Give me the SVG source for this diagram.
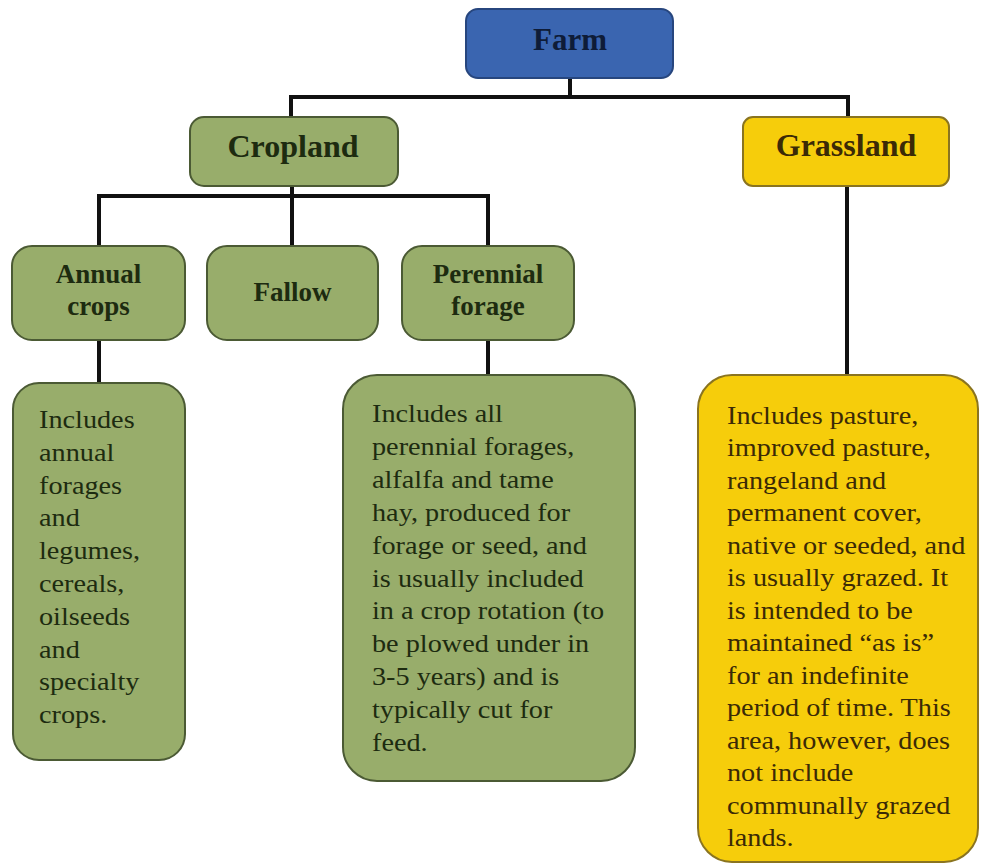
<svg xmlns="http://www.w3.org/2000/svg" width="981" height="866" viewBox="0 0 981 866">
<style>
.conn{stroke:#111;stroke-width:4;fill:none}
.blue{fill:#3a65b0;stroke:#27467e;stroke-width:2}
.green{fill:#98ad6b;stroke:#4b5a34;stroke-width:2}
.yellow{fill:#f6cd0b;stroke:#8a7420;stroke-width:2}
.lbl{font-family:"Liberation Serif","Times New Roman",serif;font-weight:bold;text-anchor:middle}
.desc{font-family:"Liberation Serif","Times New Roman",serif;font-size:25px}
.g{fill:#1d2b10}
.y{fill:#3b2a06}
</style>
<rect width="981" height="866" fill="#ffffff"/>
<g id="connectors">
<path class="conn" d="M570,78 V97 M291,97 H848 M291,95 V117 M848,95 V117"/>
<path class="conn" d="M292,186 V196 M98,196 H489 M99,194 V246 M292,194 V246 M488,194 V246"/>
<path class="conn" d="M99,340 V383 M488,340 V375 M847,186 V375"/>
</g>
<g id="farm">
<rect class="blue" x="466" y="9" width="207" height="69" rx="12"/>
<text class="lbl" x="570" y="50" font-size="31" fill="#0e1c38">Farm</text>
</g>
<g id="cropland">
<rect class="green" x="190" y="117" width="208" height="69" rx="14"/>
<text class="lbl g" x="293" y="157" font-size="32">Cropland</text>
</g>
<g id="grassland">
<rect class="yellow" x="743" y="117" width="206" height="69" rx="10"/>
<text class="lbl y" x="846" y="156" font-size="32">Grassland</text>
</g>
<g id="annual">
<rect class="green" x="12" y="246" width="173" height="94" rx="20"/>
<text class="lbl g" x="98.5" y="283" font-size="27">Annual</text>
<text class="lbl g" x="98.5" y="315" font-size="27">crops</text>
</g>
<g id="fallow">
<rect class="green" x="207" y="246" width="171" height="94" rx="20"/>
<text class="lbl g" x="292.5" y="301" font-size="27">Fallow</text>
</g>
<g id="perennial">
<rect class="green" x="402" y="246" width="172" height="94" rx="20"/>
<text class="lbl g" x="488" y="283" font-size="27">Perennial</text>
<text class="lbl g" x="488" y="315" font-size="27">forage</text>
</g>
<g id="annual-desc">
<rect class="green" x="13" y="383" width="172" height="377" rx="26"/>
<g transform="matrix(1.13,0,0,1,39,0)">
<text class="desc g" x="0" y="428">Includes</text>
<text class="desc g" x="0" y="461">annual</text>
<text class="desc g" x="0" y="494">forages</text>
<text class="desc g" x="0" y="526">and</text>
<text class="desc g" x="0" y="559">legumes,</text>
<text class="desc g" x="0" y="592">cereals,</text>
<text class="desc g" x="0" y="625">oilseeds</text>
<text class="desc g" x="0" y="658">and</text>
<text class="desc g" x="0" y="690">specialty</text>
<text class="desc g" x="0" y="723">crops.</text>
</g>
</g>
<g id="perennial-desc">
<rect class="green" x="343" y="375" width="292" height="406" rx="34"/>
<g transform="matrix(1.13,0,0,1,372,0)">
<text class="desc g" x="0" y="422">Includes all</text>
<text class="desc g" x="0" y="455">perennial forages,</text>
<text class="desc g" x="0" y="488">alfalfa and tame</text>
<text class="desc g" x="0" y="521">hay, produced for</text>
<text class="desc g" x="0" y="554">forage or seed, and</text>
<text class="desc g" x="0" y="587">is usually included</text>
<text class="desc g" x="0" y="619">in a crop rotation (to</text>
<text class="desc g" x="0" y="652">be plowed under in</text>
<text class="desc g" x="0" y="685">3-5 years) and is</text>
<text class="desc g" x="0" y="718">typically cut for</text>
<text class="desc g" x="0" y="751">feed.</text>
</g>
</g>
<g id="grassland-desc">
<rect class="yellow" x="698" y="375" width="280" height="487" rx="34"/>
<g transform="matrix(1.13,0,0,1,727,0)">
<text class="desc y" x="0" y="424">Includes pasture,</text>
<text class="desc y" x="0" y="456">improved pasture,</text>
<text class="desc y" x="0" y="489">rangeland and</text>
<text class="desc y" x="0" y="521">permanent cover,</text>
<text class="desc y" x="0" y="554">native or seeded, and</text>
<text class="desc y" x="0" y="586">is usually grazed. It</text>
<text class="desc y" x="0" y="619">is intended to be</text>
<text class="desc y" x="0" y="651">maintained “as is”</text>
<text class="desc y" x="0" y="684">for an indefinite</text>
<text class="desc y" x="0" y="716">period of time. This</text>
<text class="desc y" x="0" y="749">area, however, does</text>
<text class="desc y" x="0" y="781">not include</text>
<text class="desc y" x="0" y="814">communally grazed</text>
<text class="desc y" x="0" y="846">lands.</text>
</g>
</g>
</svg>
